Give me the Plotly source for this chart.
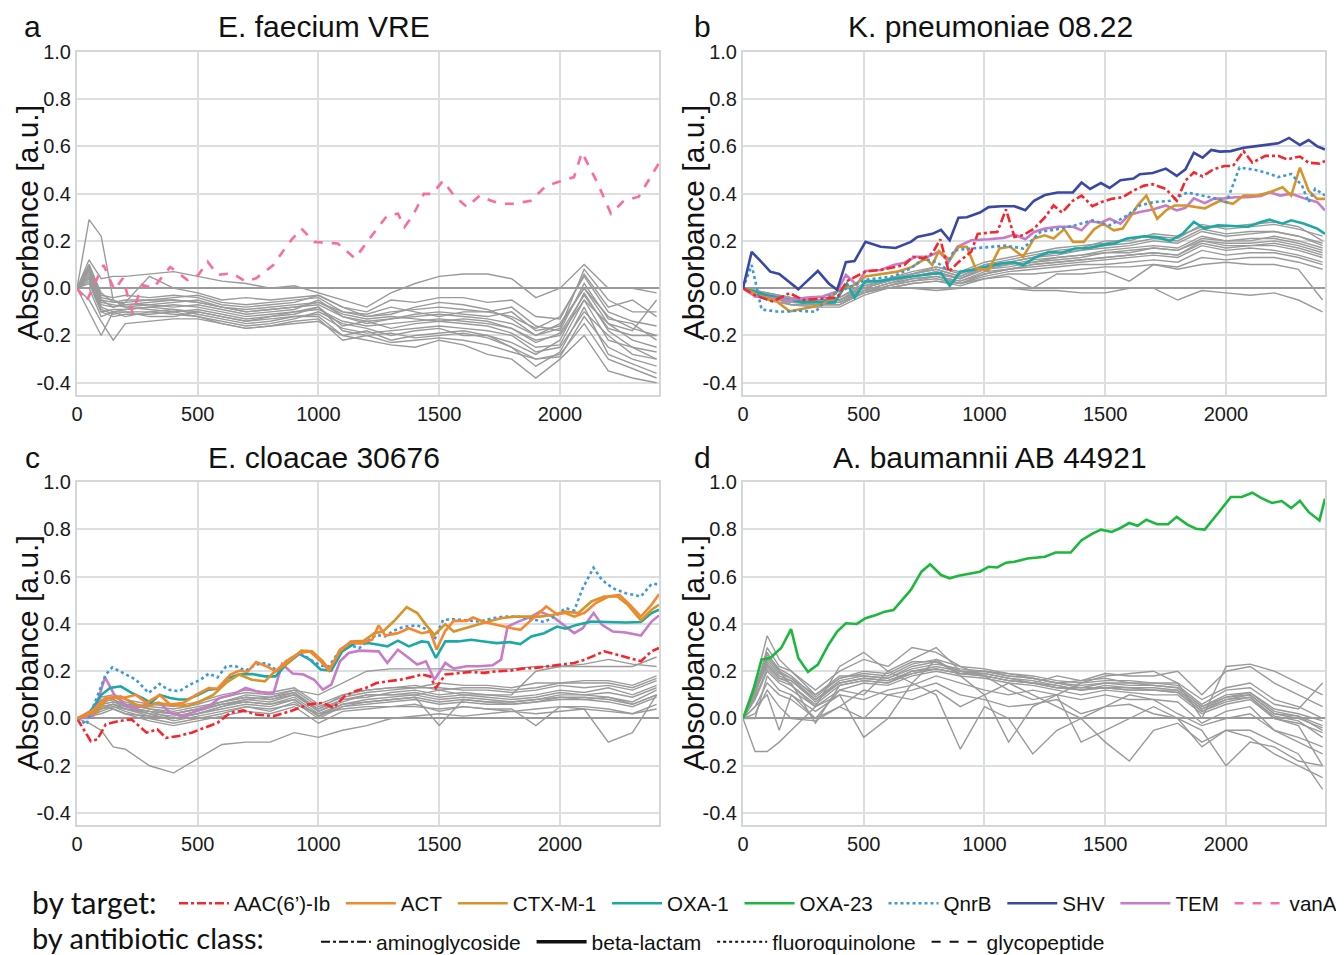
import plotly.graph_objects as go

# ---------------- data ----------------
X_GRAY = [0, 50, 100, 150, 200, 300, 400, 500, 600, 700, 800, 900, 1000, 1100, 1200,
          1300, 1400, 1500, 1600, 1700, 1800, 1900, 2000, 2100, 2200, 2300, 2400]

GRAY_A = [
    [0, 0.29, 0.22, -0.05, -0.08, -0.07, -0.06, -0.05, -0.08, -0.1, -0.09, -0.08, -0.07, -0.12, -0.14, -0.13, -0.12, -0.11, -0.12, -0.13, -0.15, -0.2, -0.15, 0.0, -0.12, -0.17, -0.2],
    [0, 0.12, 0.04, 0.05, 0.05, 0.06, 0.07, 0.05, 0.03, 0.02, 0.0, 0.01, -0.02, -0.05, -0.08, -0.02, 0.02, 0.05, 0.06, 0.06, 0.04, -0.04, 0.0, 0.1, 0.0, 0.0, -0.02],
    [0, 0.08, -0.05, -0.08, -0.06, 0.05, 0.0, -0.02, -0.05, -0.04, -0.05, -0.04, -0.03, -0.08, -0.1, -0.05, -0.06, -0.04, -0.04, -0.06, -0.05, -0.12, -0.13, 0.06, -0.08, -0.05, -0.12],
    [0, 0.05, -0.08, -0.1, -0.09, -0.08, -0.07, -0.08, -0.1, -0.12, -0.11, -0.1, -0.09, -0.14, -0.16, -0.15, -0.14, -0.13, -0.14, -0.15, -0.17, -0.22, -0.2, -0.05, -0.15, -0.22, -0.25],
    [0, -0.1, -0.2, -0.1, -0.12, -0.1, -0.09, -0.11, -0.13, -0.15, -0.14, -0.12, -0.11, -0.17, -0.19, -0.18, -0.17, -0.16, -0.17, -0.18, -0.2, -0.27, -0.25, -0.1, -0.2, -0.28, -0.3],
    [0, 0.1, -0.02, -0.06, -0.05, -0.05, -0.04, -0.03, -0.06, -0.07, -0.06, -0.05, -0.04, -0.1, -0.12, -0.1, -0.09, -0.08, -0.09, -0.1, -0.12, -0.17, -0.12, 0.05, -0.1, -0.14, -0.16],
    [0, -0.05, -0.14, -0.22, -0.15, -0.14, -0.13, -0.13, -0.15, -0.17, -0.16, -0.15, -0.14, -0.2, -0.22, -0.24, -0.25, -0.22, -0.24, -0.28, -0.3, -0.38, -0.3, -0.2, -0.35, -0.38, -0.4],
    [0, 0.07, -0.06, -0.07, -0.08, -0.09, -0.1, -0.09, -0.11, -0.13, -0.12, -0.11, -0.08, -0.18, -0.2, -0.19, -0.21, -0.2, -0.19, -0.21, -0.25, -0.3, -0.29, -0.12, -0.25, -0.3, -0.33],
    [0, 0.03, -0.1, -0.12, -0.11, -0.11, -0.1, -0.12, -0.14, -0.16, -0.15, -0.13, -0.1, -0.15, -0.17, -0.2, -0.18, -0.17, -0.2, -0.2, -0.23, -0.28, -0.22, -0.02, -0.18, -0.25, -0.27],
    [0, 0.09, -0.04, -0.05, -0.07, -0.06, -0.05, -0.06, -0.08, -0.09, -0.08, -0.07, -0.06, -0.1, -0.11, -0.08, -0.1, -0.12, -0.1, -0.1, -0.08, -0.16, -0.18, 0.02, -0.13, -0.15, -0.22],
    [0, 0.0, -0.12, -0.1, -0.1, -0.12, -0.12, -0.1, -0.12, -0.14, -0.13, -0.12, -0.12, -0.2, -0.18, -0.22, -0.2, -0.19, -0.18, -0.2, -0.25, -0.33, -0.27, -0.08, -0.28, -0.32, -0.36],
    [0, 0.06, -0.07, -0.08, -0.07, -0.07, -0.08, -0.07, -0.09, -0.11, -0.1, -0.09, -0.05, -0.12, -0.15, -0.13, -0.11, -0.1, -0.11, -0.12, -0.1, -0.18, -0.16, 0.0, -0.15, -0.18, -0.05],
    [0, 0.04, -0.09, -0.11, -0.1, -0.1, -0.11, -0.12, -0.15, -0.17, -0.16, -0.14, -0.13, -0.22, -0.2, -0.23, -0.22, -0.21, -0.22, -0.24, -0.27, -0.3, -0.28, -0.15, -0.3, -0.34, -0.38],
    [0, 0.1, -0.03, -0.04, -0.03, -0.04, -0.03, -0.04, -0.07, -0.08, -0.07, -0.06, -0.03, -0.08, -0.12, -0.11, -0.08, -0.06, -0.07, -0.09, -0.13, -0.2, -0.17, 0.08, -0.05, -0.1, -0.1],
    [0, 0.02, -0.1, -0.09, -0.09, -0.08, -0.09, -0.1, -0.12, -0.14, -0.12, -0.1, -0.08, -0.16, -0.14, -0.17, -0.15, -0.14, -0.15, -0.16, -0.19, -0.25, -0.24, -0.05, -0.22, -0.25, -0.3],
    [0, 0.08, -0.05, -0.06, -0.06, -0.05, -0.05, -0.06, -0.08, -0.1, -0.09, -0.08, -0.06, -0.11, -0.13, -0.12, -0.13, -0.14, -0.13, -0.14, -0.17, -0.23, -0.19, -0.03, -0.17, -0.2, -0.2],
]

GRAY_B = [
    [0, -0.01, -0.02, -0.03, -0.04, -0.05, -0.05, -0.01, 0.0, 0.0, -0.01, 0.0, 0.0, 0.0, -0.01, -0.01, -0.02, -0.02, 0.0, 0.0, -0.05, -0.01, -0.02, -0.03, -0.02, -0.05, -0.1],
    [0, -0.02, -0.03, -0.04, -0.05, -0.06, -0.06, -0.02, 0.0, 0.02, 0.03, 0.02, 0.04, 0.05, 0.0, 0.06, 0.06, 0.07, 0.03, 0.1, 0.08, 0.1, 0.11, 0.1, 0.1, 0.08, -0.05],
    [0, -0.03, -0.04, -0.05, -0.06, -0.07, -0.07, -0.02, 0.01, 0.03, 0.04, 0.02, 0.05, 0.07, 0.08, 0.09, 0.1, 0.1, 0.11, 0.12, 0.11, 0.16, 0.14, 0.15, 0.15, 0.13, 0.1],
    [0, -0.02, -0.03, -0.05, -0.06, -0.06, -0.06, -0.01, 0.02, 0.04, 0.05, 0.03, 0.07, 0.08, 0.1, 0.11, 0.12, 0.13, 0.14, 0.15, 0.14, 0.19, 0.17, 0.18, 0.18, 0.16, 0.13],
    [0, -0.01, -0.02, -0.04, -0.05, -0.05, -0.05, 0.0, 0.03, 0.05, 0.06, 0.04, 0.08, 0.1, 0.12, 0.13, 0.14, 0.16, 0.17, 0.18, 0.17, 0.22, 0.2, 0.21, 0.21, 0.19, 0.16],
    [0, -0.02, -0.03, -0.04, -0.05, -0.06, -0.05, 0.0, 0.03, 0.06, 0.08, 0.05, 0.1, 0.11, 0.13, 0.15, 0.16, 0.18, 0.19, 0.21, 0.2, 0.25, 0.23, 0.24, 0.24, 0.22, 0.19],
    [0, -0.03, -0.04, -0.05, -0.07, -0.08, -0.08, -0.03, 0.0, 0.02, 0.03, 0.01, 0.04, 0.06, 0.06, 0.07, 0.08, 0.09, 0.09, 0.1, 0.09, 0.13, 0.12, 0.13, 0.13, 0.11, 0.08],
    [0, -0.01, -0.03, -0.04, -0.05, -0.05, -0.05, 0.01, 0.04, 0.06, 0.09, 0.07, 0.11, 0.13, 0.15, 0.17, 0.18, 0.19, 0.21, 0.22, 0.21, 0.27, 0.25, 0.26, 0.27, 0.25, 0.22],
    [0, -0.02, -0.02, -0.03, -0.04, -0.05, -0.04, 0.01, 0.03, 0.05, 0.07, 0.04, 0.09, 0.1, 0.11, 0.13, 0.14, 0.15, 0.16, 0.17, 0.16, 0.2, 0.19, 0.19, 0.2, 0.18, 0.15],
    [0, -0.03, -0.05, -0.06, -0.07, -0.07, -0.07, -0.02, 0.01, 0.03, 0.05, 0.02, 0.06, 0.08, 0.09, 0.1, 0.11, 0.12, 0.13, 0.14, 0.13, 0.18, 0.16, 0.17, 0.16, 0.14, 0.11],
    [0, -0.01, -0.02, -0.03, -0.04, -0.04, -0.04, 0.02, 0.04, 0.07, 0.09, 0.06, 0.1, 0.12, 0.14, 0.16, 0.17, 0.2, 0.2, 0.23, 0.22, 0.26, 0.26, 0.27, 0.28, 0.26, 0.2],
    [0, -0.02, -0.04, -0.05, -0.06, -0.06, -0.06, -0.01, 0.02, 0.05, 0.07, 0.04, 0.08, 0.09, 0.11, 0.12, 0.13, 0.15, 0.15, 0.17, 0.16, 0.21, 0.2, 0.2, 0.22, 0.2, 0.17],
    [0, -0.03, -0.04, -0.06, -0.07, -0.07, -0.06, -0.02, 0.01, 0.04, 0.05, 0.03, 0.06, 0.08, 0.1, 0.11, 0.12, 0.13, 0.14, 0.15, 0.14, 0.2, 0.18, 0.18, 0.19, 0.17, 0.14],
    [0, -0.01, -0.03, -0.04, -0.05, -0.05, -0.05, 0.0, 0.03, 0.06, 0.08, 0.05, 0.09, 0.11, 0.13, 0.14, 0.16, 0.17, 0.18, 0.2, 0.19, 0.24, 0.22, 0.23, 0.24, 0.22, 0.18],
]

GRAY_C = [
    [0, -0.02, -0.05, -0.12, -0.13, -0.2, -0.23, -0.17, -0.11, -0.1, -0.1, -0.06, -0.08, -0.05, -0.03, 0.0, 0.01, 0.02, 0.01, 0.02, 0.03, 0.02, 0.03, 0.04, 0.03, 0.02, 0.04],
    [0, 0.03, 0.05, 0.06, 0.04, 0.03, 0.0, 0.02, 0.05, 0.08, 0.09, 0.12, 0.1, 0.15, 0.2, 0.21, 0.21, 0.21, 0.2, 0.21, 0.21, 0.22, 0.22, 0.22, 0.22, 0.22, 0.26],
    [0, 0.02, 0.06, 0.07, 0.05, 0.03, 0.02, 0.04, 0.06, 0.08, 0.07, 0.1, 0.04, 0.08, 0.1, 0.1, 0.1, 0.12, 0.1, 0.1, 0.1, 0.2, 0.22, 0.23, 0.25, 0.23, 0.22],
    [0, 0.01, 0.03, 0.05, 0.04, 0.02, -0.01, 0.01, 0.03, 0.05, 0.04, 0.06, 0.02, 0.04, 0.05, 0.05, 0.06, 0.03, 0.05, 0.04, 0.04, -0.03, 0.05, 0.04, -0.1, -0.06, 0.1],
    [0, 0.02, 0.08, 0.09, 0.07, 0.04, 0.03, 0.05, 0.07, 0.09, 0.08, 0.11, 0.03, 0.08, 0.09, 0.11, 0.12, 0.1, 0.11, 0.1, 0.09, 0.1, 0.12, 0.11, 0.13, 0.1, 0.14],
    [0, 0.0, 0.04, 0.05, 0.03, 0.0, -0.02, 0.0, 0.02, 0.05, 0.03, 0.07, 0.0, 0.05, 0.06, 0.07, 0.08, 0.06, 0.07, 0.06, 0.06, 0.07, 0.08, 0.08, 0.07, 0.05, 0.09],
    [0, 0.02, 0.06, 0.07, 0.06, 0.05, 0.04, 0.06, 0.09, 0.11, 0.1, 0.12, 0.05, 0.09, 0.11, 0.12, 0.13, 0.13, 0.12, 0.12, 0.11, 0.12, 0.14, 0.13, 0.14, 0.12, 0.16],
    [0, 0.01, 0.02, 0.04, 0.02, -0.01, -0.03, -0.01, 0.01, 0.03, 0.02, 0.05, -0.02, 0.03, 0.04, 0.05, 0.05, 0.04, 0.05, 0.04, 0.03, 0.04, 0.05, 0.05, 0.04, 0.02, 0.06],
    [0, 0.03, 0.07, 0.08, 0.05, 0.02, 0.01, 0.03, 0.06, 0.07, 0.06, 0.09, 0.02, 0.06, 0.08, 0.09, 0.1, 0.08, 0.09, 0.08, 0.07, 0.08, 0.1, 0.1, 0.09, 0.07, 0.12],
    [0, 0.01, 0.05, 0.06, 0.05, 0.03, 0.02, 0.04, 0.07, 0.1, 0.09, 0.11, 0.04, 0.1, 0.12, 0.13, 0.13, 0.15, 0.14, 0.14, 0.13, 0.15, 0.15, 0.16, 0.16, 0.14, 0.18],
    [0, 0.02, 0.05, 0.04, 0.02, 0.01, 0.0, 0.02, 0.04, 0.06, 0.05, 0.08, 0.01, 0.06, 0.07, 0.08, 0.09, -0.03, 0.08, 0.07, 0.07, 0.08, 0.09, 0.08, 0.09, 0.06, 0.1],
    [0, 0.02, 0.07, 0.08, 0.06, 0.04, 0.02, 0.04, 0.07, 0.09, 0.08, 0.1, 0.03, 0.07, 0.1, 0.1, 0.11, 0.09, 0.1, 0.09, 0.08, 0.09, 0.11, 0.1, 0.11, 0.09, 0.13],
    [0, 0.01, 0.04, 0.06, 0.04, 0.01, 0.0, 0.02, 0.05, 0.07, 0.06, 0.08, 0.01, 0.05, 0.07, 0.08, 0.09, 0.07, 0.08, 0.07, 0.06, 0.07, 0.09, 0.09, 0.08, 0.06, 0.1],
    [0, 0.03, 0.09, 0.1, 0.08, 0.06, 0.05, 0.07, 0.1, 0.12, 0.11, 0.13, 0.06, 0.1, 0.12, 0.13, 0.14, 0.12, 0.13, 0.13, 0.12, 0.13, 0.15, 0.15, 0.15, 0.13, 0.17],
]

GRAY_D = [
    [0, 0.12, 0.24, 0.18, 0.16, 0.07, 0.15, 0.17, 0.16, 0.2, 0.22, 0.2, 0.19, 0.17, 0.16, 0.14, 0.12, 0.14, 0.13, 0.13, 0.12, 0.04, 0.08, 0.1, 0.02, 0.01, -0.03],
    [0, 0.1, 0.3, 0.22, 0.2, 0.1, 0.18, 0.18, 0.17, 0.22, 0.24, 0.19, 0.2, 0.18, 0.17, 0.15, 0.13, 0.15, 0.14, 0.14, 0.13, 0.05, 0.1, 0.11, 0.04, 0.02, -0.01],
    [0, 0.15, 0.35, 0.25, 0.2, 0.12, 0.2, 0.25, 0.22, 0.3, 0.28, 0.22, 0.18, 0.16, 0.15, 0.18, 0.16, 0.19, 0.18, 0.18, 0.2, 0.1, 0.2, 0.22, 0.15, 0.1, 0.05],
    [0, -0.14, -0.14, -0.1, -0.05, 0.05, 0.1, -0.08, 0.0, 0.15, 0.1, -0.13, 0.05, 0.0, -0.15, -0.05, 0.0, -0.1, -0.18, -0.05, -0.02, -0.1, -0.05, -0.08, -0.15, -0.2, -0.25],
    [0, 0.05, 0.1, -0.05, 0.1, 0.0, 0.12, 0.1, 0.2, 0.15, 0.25, 0.18, 0.1, -0.1, 0.05, 0.1, -0.1, -0.05, 0.0, 0.05, 0.0, -0.05, -0.2, -0.1, -0.12, -0.18, -0.2],
    [0, 0.08, 0.2, 0.15, 0.12, 0.05, 0.12, 0.15, 0.14, 0.18, 0.2, 0.18, 0.17, 0.15, 0.14, 0.12, 0.1, 0.12, 0.11, 0.1, 0.1, 0.02, 0.06, 0.08, 0.0, -0.02, -0.06],
    [0, 0.1, 0.26, 0.2, 0.14, 0.05, 0.22, 0.28, 0.2, 0.25, 0.3, 0.2, 0.18, 0.12, 0.08, 0.1, 0.15, 0.18, 0.19, 0.2, 0.15, 0.0, 0.22, 0.23, 0.2, 0.15, 0.1],
    [0, 0.12, 0.22, 0.17, 0.15, -0.02, 0.14, 0.16, 0.15, 0.2, 0.21, 0.19, 0.18, 0.16, 0.15, 0.13, 0.12, 0.13, 0.12, 0.12, 0.11, 0.03, 0.07, 0.09, 0.0, -0.03, -0.2],
    [0, 0.05, 0.15, 0.1, 0.08, 0.0, 0.05, 0.0, 0.1, 0.12, 0.15, 0.1, 0.08, 0.05, 0.06, 0.08, 0.02, 0.05, 0.06, 0.02, 0.0, -0.12, -0.05, -0.05, -0.1, -0.15, -0.3],
    [0, 0.13, 0.25, 0.19, 0.17, 0.08, 0.16, 0.18, 0.17, 0.21, 0.23, 0.21, 0.2, 0.18, 0.17, 0.15, 0.14, 0.15, 0.15, 0.14, 0.13, 0.05, 0.09, 0.11, 0.03, 0.01, -0.05],
    [0, 0.02, 0.12, 0.05, 0.0, -0.01, 0.05, 0.12, 0.1, 0.08, 0.12, 0.05, 0.1, 0.15, 0.1, 0.05, 0.0, 0.05, 0.1, 0.08, 0.02, -0.03, 0.0, 0.02, -0.05, -0.1, -0.15],
    [0, 0.1, 0.27, 0.21, 0.18, 0.09, 0.17, 0.19, 0.18, 0.23, 0.25, 0.22, 0.21, 0.19, 0.18, 0.16, 0.15, 0.16, 0.16, 0.15, 0.14, 0.06, 0.12, 0.13, 0.06, 0.04, 0.15],
    [0, 0.11, 0.23, 0.17, 0.16, 0.08, 0.15, 0.17, 0.16, 0.19, 0.21, 0.19, 0.19, 0.17, 0.15, 0.13, 0.13, 0.13, 0.13, 0.12, 0.12, 0.04, 0.09, 0.1, 0.02, 0.0, -0.04],
    [0, 0.09, 0.21, 0.16, 0.14, 0.06, 0.14, 0.16, 0.15, 0.19, 0.21, 0.19, 0.18, 0.16, 0.15, 0.14, 0.12, 0.13, 0.12, 0.12, 0.11, 0.03, 0.08, 0.09, 0.01, -0.01, -0.08],
    [0, 0.0, 0.18, 0.12, 0.1, 0.03, 0.1, 0.08, 0.12, 0.14, 0.18, 0.15, 0.12, 0.1, 0.12, 0.1, 0.08, 0.1, 0.08, 0.08, 0.07, -0.02, 0.03, 0.05, -0.05, -0.08, -0.12],
    [0, 0.13, 0.28, 0.2, 0.17, 0.1, 0.17, 0.2, 0.19, 0.24, 0.24, 0.2, 0.2, 0.19, 0.17, 0.15, 0.16, 0.17, 0.15, 0.15, 0.15, 0.08, 0.13, 0.15, 0.08, 0.05, 0.0],
]

# panel a: vanA
VANA_A_X = [0, 39, 110, 155, 190, 230, 270, 315, 386, 422, 457, 502, 541, 582, 644, 698, 742, 813, 875, 929,
            982, 1080, 1151, 1222, 1285, 1329, 1356, 1391, 1436, 1472, 1516, 1561, 1615, 1668, 1712, 1756, 1802, 1880, 1942, 1996,
            2058, 2091, 2153, 2211, 2264, 2326, 2410]
VANA_A_Y = [0.0, -0.056, 0.098, -0.007, 0.042, -0.105, 0.014, 0.0, 0.09, 0.063, 0.035, 0.056, 0.112, 0.056, 0.063, 0.028, 0.042, 0.098, 0.189, 0.252,
            0.196, 0.189, 0.126, 0.224, 0.308, 0.315, 0.259, 0.308, 0.399, 0.399, 0.455, 0.392, 0.343, 0.392, 0.371, 0.357, 0.357, 0.37, 0.433, 0.45,
            0.47, 0.575, 0.45, 0.315, 0.37, 0.387, 0.53]

# panel b
SHV_B_X = [0, 36, 77, 113, 150, 229, 265, 310, 355, 390, 426, 462, 507, 570, 632, 695, 722, 784, 820, 856,
           892, 927, 981, 1017, 1070, 1124, 1169, 1205, 1250, 1303, 1366, 1402, 1437, 1482, 1518, 1563, 1617, 1643, 1697, 1751,
           1796, 1832, 1867, 1903, 1939, 1975, 2020, 2073, 2118, 2163, 2216, 2261, 2306, 2342, 2378, 2410]
SHV_B_Y = [0.0, 0.154, 0.11, 0.07, 0.06, -0.005, 0.03, 0.073, 0.02, -0.007, 0.11, 0.115, 0.196, 0.175, 0.17, 0.196, 0.217, 0.23, 0.247, 0.203,
           0.298, 0.30, 0.32, 0.343, 0.347, 0.347, 0.33, 0.37, 0.394, 0.405, 0.405, 0.447, 0.42, 0.445, 0.424, 0.457, 0.464, 0.482, 0.487, 0.506,
           0.475, 0.503, 0.573, 0.552, 0.585, 0.578, 0.58, 0.594, 0.60, 0.606, 0.613, 0.636, 0.606, 0.627, 0.60, 0.587]
AAC_B_X = [0, 50, 122, 193, 250, 330, 390, 430, 507, 570, 623, 668, 704, 748, 784, 817, 852, 892, 945, 972,
           1017, 1053, 1089, 1124, 1160, 1205, 1250, 1286, 1321, 1366, 1402, 1447, 1482, 1527, 1572, 1617, 1661, 1697, 1751, 1796,
           1832, 1867, 1903, 1948, 1993, 2029, 2073, 2109, 2163, 2216, 2252, 2306, 2342, 2387, 2410]
AAC_B_Y = [0.0, -0.03, -0.056, -0.021, -0.05, -0.045, -0.04, 0.03, 0.07, 0.077, 0.09, 0.098, 0.133, 0.126, 0.147, 0.207, 0.07, 0.11, 0.154, 0.23,
           0.235, 0.238, 0.333, 0.217, 0.224, 0.252, 0.30, 0.35, 0.32, 0.37, 0.392, 0.347, 0.364, 0.378, 0.385, 0.413, 0.434, 0.44, 0.42, 0.37,
           0.455, 0.49, 0.473, 0.503, 0.517, 0.517, 0.58, 0.531, 0.56, 0.56, 0.545, 0.557, 0.531, 0.527, 0.538]
QNR_B_X = [0, 36, 77, 150, 229, 300, 355, 430, 507, 623, 695, 748, 802, 838, 874, 945, 1017, 1089, 1160, 1232,
           1303, 1375, 1447, 1518, 1590, 1643, 1697, 1769, 1840, 1912, 1966, 2002, 2056, 2109, 2163, 2216, 2270, 2315, 2342, 2369, 2410]
QNR_B_Y = [0.0, 0.098, -0.09, -0.1, -0.095, -0.1, -0.035, 0.0, 0.035, 0.05, 0.084, 0.126, 0.11, 0.084, 0.16, 0.168, 0.175, 0.18, 0.168, 0.238,
           0.25, 0.266, 0.287, 0.266, 0.307, 0.35, 0.364, 0.37, 0.405, 0.39, 0.378, 0.364, 0.51, 0.503, 0.49, 0.47, 0.483, 0.434, 0.364, 0.42, 0.392]
CTX_B_X = [0, 77, 140, 193, 265, 330, 390, 462, 507, 570, 640, 700, 757, 784, 811, 856, 892, 927, 963, 1017,
           1062, 1106, 1160, 1205, 1250, 1286, 1330, 1366, 1411, 1455, 1491, 1536, 1572, 1608, 1634, 1670, 1715, 1751, 1787, 1832,
           1912, 1975, 2029, 2073, 2127, 2181, 2234, 2270, 2306, 2342, 2378, 2410]
CTX_B_Y = [0.0, -0.035, -0.056, -0.098, -0.084, -0.07, -0.014, 0.014, 0.05, 0.06, 0.07, 0.09, 0.126, 0.098, 0.157, 0.12, 0.175, 0.175, 0.084, 0.077,
           0.168, 0.175, 0.133, 0.21, 0.224, 0.21, 0.25, 0.196, 0.196, 0.25, 0.273, 0.245, 0.252, 0.308, 0.35, 0.392, 0.294, 0.329, 0.35, 0.35,
           0.338, 0.37, 0.357, 0.392, 0.392, 0.406, 0.427, 0.392, 0.51, 0.413, 0.378, 0.378]
TEM_B_X = [0, 50, 193, 265, 330, 390, 426, 471, 507, 570, 623, 668, 713, 766, 811, 852, 888, 945, 1017, 1080,
           1124, 1169, 1205, 1250, 1303, 1366, 1402, 1437, 1482, 1518, 1563, 1599, 1643, 1697, 1751, 1796, 1832, 1867, 1912, 1948,
           1993, 2038, 2091, 2145, 2181, 2225, 2270, 2324, 2378, 2410]
TEM_B_Y = [0.0, -0.035, -0.05, -0.04, -0.035, -0.014, 0.056, 0.014, 0.073, 0.077, 0.098, 0.108, 0.133, 0.133, 0.154, 0.112, 0.175, 0.203, 0.207, 0.213,
           0.227, 0.207, 0.238, 0.252, 0.26, 0.26, 0.245, 0.283, 0.277, 0.294, 0.273, 0.31, 0.322, 0.333, 0.35, 0.329, 0.34, 0.38, 0.36, 0.378,
           0.38, 0.385, 0.385, 0.39, 0.406, 0.392, 0.40, 0.38, 0.364, 0.329]
OXA1_B_X = [0, 100, 250, 380, 430, 462, 507, 570, 623, 700, 760, 820, 856, 900, 945, 1000, 1070, 1120, 1160, 1210,
            1268, 1320, 1375, 1430, 1482, 1540, 1590, 1661, 1720, 1769, 1820, 1867, 1912, 1966, 2020, 2091, 2145, 2181, 2234, 2270,
            2324, 2378, 2410]
OXA1_B_Y = [0.0, -0.03, -0.06, -0.06, 0.02, -0.04, 0.03, 0.03, 0.04, 0.05, 0.06, 0.065, 0.01, 0.07, 0.077, 0.09, 0.105, 0.11, 0.098, 0.13,
            0.154, 0.15, 0.168, 0.17, 0.182, 0.19, 0.21, 0.22, 0.215, 0.20, 0.23, 0.28, 0.252, 0.266, 0.263, 0.26, 0.28, 0.29, 0.273, 0.287,
            0.273, 0.252, 0.23]

# panel c
QNR_C_X = [0, 39, 119, 146, 190, 244, 297, 342, 377, 422, 468, 511, 546, 582, 617, 653, 698, 742, 786, 831,
           866, 920, 956, 1009, 1044, 1080, 1125, 1169, 1205, 1240, 1276, 1311, 1356, 1409, 1454, 1480, 1516, 1560, 1614, 1667,
           1721, 1765, 1827, 1881, 1934, 1988, 2023, 2059, 2094, 2139, 2174, 2219, 2272, 2335, 2379, 2410]
QNR_C_Y = [0.0, -0.025, 0.186, 0.216, 0.193, 0.164, 0.108, 0.146, 0.122, 0.115, 0.143, 0.164, 0.19, 0.174, 0.22, 0.223, 0.202, 0.228, 0.235, 0.2,
           0.242, 0.277, 0.256, 0.223, 0.221, 0.277, 0.312, 0.298, 0.329, 0.354, 0.347, 0.371, 0.389, 0.394, 0.375, 0.333, 0.417, 0.42, 0.415, 0.41,
           0.424, 0.431, 0.431, 0.422, 0.408, 0.438, 0.467, 0.457, 0.551, 0.638, 0.586, 0.551, 0.53, 0.516, 0.569, 0.568]
ACT_C_X = [0, 60, 119, 190, 244, 288, 342, 386, 440, 493, 546, 582, 635, 671, 706, 742, 786, 822, 866, 920,
           964, 1009, 1044, 1089, 1133, 1178, 1222, 1249, 1276, 1329, 1374, 1427, 1463, 1489, 1525, 1560, 1614, 1640, 1685, 1721,
           1765, 1801, 1836, 1890, 1943, 1988, 2023, 2059, 2103, 2148, 2201, 2246, 2290, 2335, 2379, 2410]
ACT_C_Y = [0.0, 0.03, 0.087, 0.087, 0.1, 0.066, 0.1, 0.059, 0.066, 0.1, 0.129, 0.126, 0.186, 0.202, 0.197, 0.239, 0.22, 0.2, 0.242, 0.277,
           0.284, 0.242, 0.202, 0.291, 0.322, 0.319, 0.333, 0.394, 0.351, 0.361, 0.382, 0.361, 0.368, 0.291, 0.371, 0.413, 0.413, 0.427, 0.408, 0.399,
           0.389, 0.382, 0.375, 0.424, 0.474, 0.441, 0.446, 0.431, 0.448, 0.488, 0.516, 0.523, 0.481, 0.431, 0.481, 0.526]
CTX_C_X = [0, 84, 128, 181, 244, 290, 333, 377, 457, 511, 564, 617, 671, 724, 778, 813, 866, 929, 973, 1018,
           1044, 1089, 1133, 1187, 1231, 1267, 1311, 1365, 1409, 1445, 1480, 1525, 1560, 1605, 1649, 1703, 1756, 1810, 1863, 1916,
           1970, 2023, 2076, 2130, 2183, 2237, 2281, 2335, 2379, 2410]
CTX_C_Y = [0.0, 0.03, 0.087, 0.094, 0.059, 0.05, 0.066, 0.059, 0.052, 0.073, 0.1, 0.15, 0.186, 0.164, 0.157, 0.193, 0.228, 0.287, 0.284, 0.242,
           0.207, 0.284, 0.326, 0.329, 0.361, 0.368, 0.41, 0.471, 0.446, 0.396, 0.354, 0.399, 0.368, 0.382, 0.396, 0.41, 0.424, 0.431, 0.431, 0.431,
           0.438, 0.452, 0.446, 0.495, 0.516, 0.516, 0.481, 0.415, 0.46, 0.481]
OXA1_C_X = [0, 50, 101, 137, 181, 226, 270, 306, 342, 386, 422, 457, 502, 546, 582, 626, 671, 724, 778, 822,
            866, 920, 964, 1009, 1053, 1098, 1151, 1205, 1249, 1285, 1329, 1374, 1427, 1454, 1486, 1525, 1578, 1632, 1685, 1738,
            1792, 1836, 1881, 1934, 1988, 2023, 2068, 2130, 2201, 2272, 2335, 2379, 2410]
OXA1_C_Y = [0.0, 0.02, 0.1, 0.129, 0.136, 0.108, 0.087, 0.066, 0.1, 0.087, 0.08, 0.08, 0.1, 0.122, 0.126, 0.171, 0.186, 0.188, 0.178, 0.178,
            0.228, 0.273, 0.249, 0.207, 0.202, 0.284, 0.319, 0.319, 0.312, 0.305, 0.329, 0.305, 0.326, 0.323, 0.256, 0.326, 0.326, 0.333, 0.326, 0.319,
            0.323, 0.315, 0.347, 0.361, 0.389, 0.38, 0.396, 0.41, 0.408, 0.406, 0.408, 0.446, 0.46]
TEM_C_X = [0, 66, 116, 155, 208, 244, 288, 342, 386, 440, 493, 546, 591, 644, 698, 742, 786, 815, 849, 893,
           938, 982, 1018, 1053, 1089, 1125, 1169, 1213, 1249, 1285, 1329, 1374, 1409, 1445, 1480, 1525, 1560, 1614, 1667, 1721,
           1756, 1783, 1827, 1881, 1916, 1970, 2014, 2059, 2094, 2139, 2174, 2219, 2272, 2335, 2379, 2410]
TEM_C_Y = [0.0, 0.01, 0.174, 0.1, 0.052, 0.045, 0.059, 0.066, 0.024, 0.01, 0.031, 0.052, 0.087, 0.1, 0.129, 0.115, 0.108, 0.11, 0.23, 0.19,
           0.186, 0.164, 0.122, 0.143, 0.242, 0.277, 0.287, 0.284, 0.284, 0.235, 0.291, 0.256, 0.228, 0.242, 0.164, 0.235, 0.211, 0.221, 0.221, 0.225,
           0.249, 0.389, 0.41, 0.431, 0.452, 0.431, 0.396, 0.361, 0.382, 0.446, 0.396, 0.368, 0.364, 0.351, 0.41, 0.436]
AAC_C_X = [0, 30, 57, 84, 119, 173, 226, 288, 333, 368, 422, 475, 528, 582, 635, 689, 742, 813, 884, 956,
           1018, 1062, 1107, 1151, 1196, 1240, 1285, 1338, 1383, 1427, 1463, 1486, 1525, 1578, 1632, 1685, 1738, 1792, 1845, 1899,
           1952, 2005, 2059, 2103, 2148, 2183, 2237, 2281, 2335, 2379, 2410]
AAC_C_Y = [0.0, -0.053, -0.096, -0.089, -0.025, -0.011, -0.004, -0.06, -0.046, -0.082, -0.074, -0.06, -0.039, -0.018, 0.024, 0.034, 0.017, 0.01, 0.031, 0.059,
           0.066, 0.045, 0.094, 0.115, 0.129, 0.15, 0.157, 0.164, 0.174, 0.186, 0.178, 0.129, 0.186, 0.19, 0.197, 0.193, 0.2, 0.202, 0.211, 0.214,
           0.221, 0.228, 0.235, 0.249, 0.27, 0.284, 0.27, 0.256, 0.242, 0.284, 0.298]

# panel d
OXA23_D_X = [0, 41, 77, 113, 158, 199, 229, 269, 310, 354, 390, 426, 471, 507, 551, 587, 623, 659, 695, 739,
             775, 820, 856, 892, 945, 981, 1017, 1053, 1089, 1124, 1178, 1214, 1250, 1294, 1357, 1402, 1447, 1482, 1527, 1563,
             1599, 1634, 1670, 1715, 1760, 1796, 1840, 1876, 1912, 1966, 2020, 2065, 2109, 2145, 2190, 2231, 2270, 2306, 2342, 2387, 2410]
OXA23_D_Y = [0.0, 0.115, 0.249, 0.256, 0.298, 0.378, 0.256, 0.197, 0.228, 0.312, 0.368, 0.403, 0.40, 0.424, 0.438, 0.452, 0.459, 0.501, 0.544, 0.621,
             0.652, 0.607, 0.593, 0.604, 0.614, 0.621, 0.642, 0.639, 0.659, 0.663, 0.677, 0.681, 0.684, 0.702, 0.702, 0.754, 0.782, 0.799, 0.789, 0.806,
             0.827, 0.815, 0.841, 0.822, 0.822, 0.853, 0.82, 0.803, 0.799, 0.867, 0.937, 0.937, 0.955, 0.933, 0.912, 0.92, 0.89, 0.921, 0.874, 0.838, 0.93]

TARGET_NAMES = ["AAC(6’)-Ib", "ACT", "CTX-M-1", "OXA-1", "OXA-23", "QnrB", "SHV", "TEM", "vanA"]
TARGET_COLORS = ["#f8262b", "#f7862c", "#d6942a", "#19a9a6", "#1cb83e", "#3d98dc", "#3a48a5", "#c77bc9", "#fd6aa3"]
TARGET_DASH = ["dashdot", "solid", "solid", "solid", "solid", "dot", "solid", "solid", "dash"]
CLASS_NAMES = ["aminoglycoside", "beta-lactam", "fluoroquinolone", "glycopeptide"]
CLASS_DASH = ["dashdot", "solid", "dot", "dash"]

PANEL_LETTERS = ["a", "b", "c", "d"]
PANEL_TITLES = ["E. faecium VRE", "K. pneumoniae 08.22", "E. cloacae 30676", "A. baumannii AB 44921"]
Y_TICKS = [-0.4, -0.2, 0.0, 0.2, 0.4, 0.6, 0.8, 1.0]
Y_TICK_TEXT = ["-0.4", "-0.2", "0.0", "0.2", "0.4", "0.6", "0.8", "1.0"]
X_TICKS = [0, 500, 1000, 1500, 2000]

PANEL_GRAY = [GRAY_A, GRAY_B, GRAY_C, GRAY_D]
PANEL_SERIES = [
    [("vanA", VANA_A_X, VANA_A_Y)],
    [("OXA-1", OXA1_B_X, OXA1_B_Y), ("TEM", TEM_B_X, TEM_B_Y), ("CTX-M-1", CTX_B_X, CTX_B_Y),
     ("QnrB", QNR_B_X, QNR_B_Y), ("AAC(6’)-Ib", AAC_B_X, AAC_B_Y), ("SHV", SHV_B_X, SHV_B_Y)],
    [("AAC(6’)-Ib", AAC_C_X, AAC_C_Y), ("TEM", TEM_C_X, TEM_C_Y), ("OXA-1", OXA1_C_X, OXA1_C_Y),
     ("QnrB", QNR_C_X, QNR_C_Y), ("CTX-M-1", CTX_C_X, CTX_C_Y), ("ACT", ACT_C_X, ACT_C_Y)],
    [("OXA-23", OXA23_D_X, OXA23_D_Y)],
]

# ---------------- figure ----------------
W, H = 1344, 955
OFF = 8  # the page body adds an 8px margin; positions below are window pixels
FONT = "Liberation Sans, Arial, sans-serif"
LEG_FONT = "Lato, Open Sans, sans-serif"
NBSP = "\u00a0"


def px(x):
    return (x - OFF) / W


def py(y):
    return 1 - (y - OFF) / H


# plot-area boxes in window pixels (left, right, top, bottom)
BOXES = [(77, 659, 52, 397), (743, 1325, 52, 397), (77, 659, 485, 830), (743, 1325, 485, 830)]
TITLE_POS = [(324, 27), (990, 27), (324, 460), (990, 460)]
LETTER_POS = [(32, 27), (702, 27), (32, 460), (702, 460)]
YTITLE_X = [27, 693, 27, 693]

fig = go.Figure()

for p in range(4):
    xa = "x" if p == 0 else f"x{p + 1}"
    ya = "y" if p == 0 else f"y{p + 1}"
    for row in PANEL_GRAY[p]:
        fig.add_trace(go.Scatter(x=X_GRAY, y=row, mode="lines", xaxis=xa, yaxis=ya,
                                 line=dict(color="#9a9a9a", width=1.4),
                                 showlegend=False, hoverinfo="skip"))
    for name, xs, ys in PANEL_SERIES[p]:
        i = TARGET_NAMES.index(name)
        fig.add_trace(go.Scatter(x=xs, y=ys, mode="lines", xaxis=xa, yaxis=ya,
                                 line=dict(color=TARGET_COLORS[i], dash=TARGET_DASH[i], width=2.6),
                                 showlegend=False, name=name, hoverinfo="skip"))

# legend entries
for i, name in enumerate(TARGET_NAMES):
    label = name if i == len(TARGET_NAMES) - 1 else name + NBSP
    fig.add_trace(go.Scatter(x=[None], y=[None], mode="lines", name=label, legend="legend",
                             line=dict(color=TARGET_COLORS[i], dash=TARGET_DASH[i], width=2.6)))
for i, name in enumerate(CLASS_NAMES):
    fig.add_trace(go.Scatter(x=[None], y=[None], mode="lines", name=name + NBSP, legend="legend2",
                             line=dict(color="#111111", dash=CLASS_DASH[i],
                                       width=3.4 if CLASS_DASH[i] == "solid" else 2.2)))

layout = dict(
    width=W, height=H, margin=dict(l=0, r=0, t=0, b=0),
    paper_bgcolor="white", plot_bgcolor="white",
    font=dict(family=FONT, color="#1a1a1a"),
    template="none",
)

annotations = []
for p in range(4):
    l, r, t, b = BOXES[p]
    xk = "xaxis" if p == 0 else f"xaxis{p + 1}"
    yk = "yaxis" if p == 0 else f"yaxis{p + 1}"
    ya = "y" if p == 0 else f"y{p + 1}"
    xa = "x" if p == 0 else f"x{p + 1}"
    layout[xk] = dict(domain=[px(l), px(r)], anchor=ya, range=[0, 2410],
                      tickvals=X_TICKS, showgrid=True, gridcolor="#dcdfdf", gridwidth=1.5,
                      showline=True, mirror=True, linecolor="#d3d7d7", linewidth=2,
                      zeroline=False, ticks="", tickfont=dict(size=20, color="#1a1a1a"))
    layout[yk] = dict(domain=[py(b), py(t)], anchor=xa, range=[-0.45, 1.0005],
                      tickvals=Y_TICKS, ticktext=Y_TICK_TEXT, showgrid=True,
                      gridcolor="#dcdfdf", gridwidth=1.5,
                      showline=True, mirror=True, linecolor="#d3d7d7", linewidth=2,
                      zeroline=True, zerolinecolor="#9a9a9a", zerolinewidth=2,
                      ticks="", tickfont=dict(size=20, color="#1a1a1a"))
    tx, ty = TITLE_POS[p]
    annotations.append(dict(text=PANEL_TITLES[p], x=px(tx), y=py(ty), xref="paper", yref="paper",
                            xanchor="center", yanchor="middle", showarrow=False,
                            font=dict(size=30, family=FONT, color="#111111")))
    lx, ly = LETTER_POS[p]
    annotations.append(dict(text=PANEL_LETTERS[p], x=px(lx), y=py(ly), xref="paper", yref="paper",
                            xanchor="center", yanchor="middle", showarrow=False,
                            font=dict(size=30, family=FONT, color="#111111")))
    annotations.append(dict(text="Absorbance [a.u.]", x=px(YTITLE_X[p]), y=py((t + b) / 2),
                            xref="paper", yref="paper", xanchor="center", yanchor="middle",
                            textangle=-90, showarrow=False,
                            font=dict(size=30, family=FONT, color="#111111")))

# legend row headings
annotations.append(dict(text="by target:", x=px(30), y=py(908), xref="paper", yref="paper",
                        xanchor="left", yanchor="middle", showarrow=False,
                        font=dict(size=30, family=LEG_FONT, color="#111111")))
annotations.append(dict(text="by antibiotic class:", x=px(30), y=py(943), xref="paper", yref="paper",
                        xanchor="left", yanchor="middle", showarrow=False,
                        font=dict(size=29, family=LEG_FONT, color="#111111")))

layout["annotations"] = annotations
layout["legend"] = dict(orientation="h", x=px(174), y=py(909), xanchor="left", yanchor="middle",
                        font=dict(size=20.6, family=FONT, color="#111111"), itemwidth=50,
                        bgcolor="rgba(0,0,0,0)", traceorder="normal")
layout["legend2"] = dict(orientation="h", x=px(316), y=py(948), xanchor="left", yanchor="middle",
                         font=dict(size=21, family=FONT, color="#111111"), itemwidth=50,
                         bgcolor="rgba(0,0,0,0)", traceorder="normal")

fig.update_layout(**layout)
fig.write_html("out.html", config={"displayModeBar": False})
